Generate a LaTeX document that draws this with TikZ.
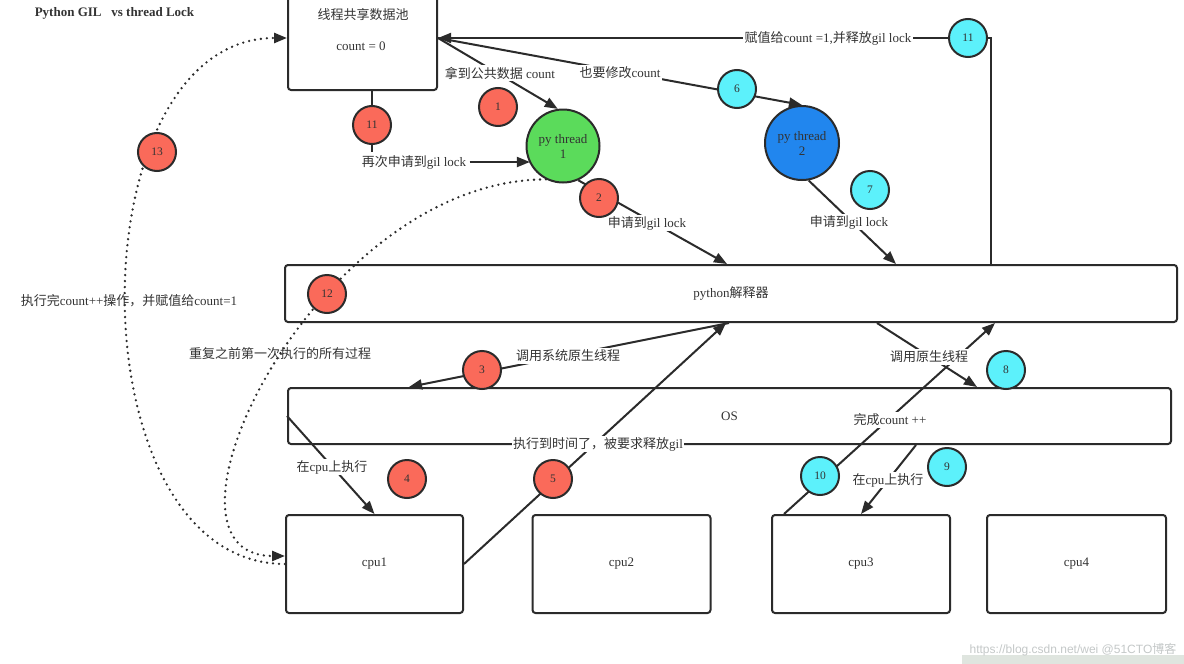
\documentclass[tikz,border=0pt]{standalone}
\usepackage{fontspec}
\setmainfont{Liberation Serif}
\newfontfamily\cjk{Noto Sans CJK SC}
\newfontfamily\wmfont{Liberation Sans}
\usetikzlibrary{arrows.meta}
\definecolor{linec}{HTML}{2B2B2B}
\definecolor{txtc}{HTML}{333333}
\definecolor{redf}{HTML}{FA6A5A}
\definecolor{cyanf}{HTML}{5CF1FB}
\definecolor{greenf}{HTML}{5BDB5B}
\definecolor{bluef}{HTML}{2186EE}
\definecolor{wmc}{HTML}{C4C8C8}
\definecolor{bandc}{HTML}{DFE5DF}
\pgfdeclarelayer{bg}
\pgfsetlayers{bg,main}
\begin{document}
\begin{tikzpicture}[x=1pt,y=-1pt,
  every node/.style={text=txtc, font=\fontsize{13}{15}\selectfont},
  box/.style={draw=linec, line width=2pt, rounded corners=3pt, inner sep=0pt},
  ball/.style={circle, draw=linec, line width=2pt, minimum size=38pt, inner sep=0pt, font=\fontsize{11.5}{12}\selectfont},
  redball/.style={ball, fill=redf},
  cyanball/.style={ball, fill=cyanf},
  thread/.style={circle, draw=linec, line width=2pt, inner sep=0pt, align=center, font=\fontsize{13}{15}\selectfont},
  conn/.style={draw=linec, line width=2pt},
  arr/.style={conn, -{Triangle[length=13pt,width=10pt]}},
  lbl/.style={fill=white, inner sep=1.5pt},
  dotline/.style={draw=linec, line width=2.6pt, line cap=round, dash pattern=on 0pt off 6pt, -{Triangle[length=13pt,width=10pt]}}
]
\useasboundingbox (0,0) rectangle (1184,664);
\clip (0,0) rectangle (1184,664);

% title
\node[font=\fontsize{13}{15}\selectfont\bfseries] (title) at (114.5,13) {Python GIL\ \ \ vs thread Lock};

% boxes
\node[box, minimum width=149pt, minimum height=104pt] (pool) at (362.5,38) {};
\node (pooltitle) at (363,15) {\cjk 线程共享数据池};
\node (poolcount) at (361,46) {count = 0};
\node[box, minimum width=892pt, minimum height=57pt] (interp) at (731,293.5) {python{\cjk 解释器}};
\node[box, minimum width=883pt, minimum height=56pt] (os) at (729.5,416) {OS};
\node[box, minimum width=177pt, minimum height=98pt] (cpu1) at (374.5,564) {cpu1};
\node[box, minimum width=178pt, minimum height=98pt] (cpu2) at (621.5,564) {cpu2};
\node[box, minimum width=178pt, minimum height=98pt] (cpu3) at (861,564) {cpu3};
\node[box, minimum width=179pt, minimum height=98pt] (cpu4) at (1076.5,564) {cpu4};

% threads
\node[thread, fill=greenf, minimum size=73pt] (t1) at (563,146) {py thread\\1};
\node[thread, fill=bluef, minimum size=74pt] (t2) at (802,143) {py thread\\2};

% labels
\node[lbl] (take) at (500,73) {{\cjk 拿到公共数据} count};
\node[lbl] (alsomod) at (620,73) {{\cjk 也要修改}count};
\node[lbl] (assign) at (828,38) {{\cjk 赋值给}count =1,{\cjk 并释放}gil lock};
\node (regain) at (414,162) {{\cjk 再次申请到}gil lock};
\node[lbl] (apply1) at (647,223) {{\cjk 申请到}gil lock};
\node[lbl] (apply2) at (849,222) {{\cjk 申请到}gil lock};
\node (execdone) at (129,301) {{\cjk 执行完}count++{\cjk 操作，并赋值给}count=1};
\node (repeat) at (280,354) {\cjk 重复之前第一次执行的所有过程};
\node[lbl] (syscall) at (568,356) {\cjk 调用系统原生线程};
\node[lbl] (timeup) at (598,444) {{\cjk 执行到时间了，被要求释放}gil};
\node[lbl] (oncpu1) at (332,467) {{\cjk 在}cpu{\cjk 上执行}};
\node[lbl] (native) at (929,357) {\cjk 调用原生线程};
\node[lbl] (done) at (890,420) {{\cjk 完成}count ++};
\node[lbl] (oncpu3) at (888,480) {{\cjk 在}cpu{\cjk 上执行}};

% numbered circles
\node[redball] (r1) at (498,107) {1};
\node[redball] (r2) at (599,198) {2};
\node[redball] (r3) at (482,370) {3};
\node[redball] (r4) at (407,479) {4};
\node[redball] (r5) at (553,479) {5};
\node[redball] (r11) at (372,125) {11};
\node[redball] (r12) at (327,294) {12};
\node[redball] (r13) at (157,152) {13};
\node[cyanball] (c6) at (737,89) {6};
\node[cyanball] (c7) at (870,190) {7};
\node[cyanball] (c8) at (1006,370) {8};
\node[cyanball] (c9) at (947,467) {9};
\node[cyanball] (c10) at (820,476) {10};
\node[cyanball] (c11) at (968,38) {11};

% watermark
\node[text=wmc, font=\fontsize{12}{14}\selectfont\wmfont] (wm) at (1073,650) {https://blog.csdn.net/wei @51CTO{\cjk 博客}};

\begin{pgfonlayer}{bg}
  \fill[white] (0,0) rectangle (1184,664);
  \fill[bandc] (962,655) rectangle (1184,664);
  \draw[arr] (pool.east) -- (t1.98);
  \draw[arr] (pool.east) -- (t2.north);
  \draw[arr] ([xshift=707pt]interp.north west) |- (pool.east);
  \draw[conn] (r11.north) -- (r11.north |- pool.south);
  \draw[conn] (r11.south) -- (r11.south |- regain.north);
  \draw[arr] (regain.east) -- (regain.east -| t1.208);
  \draw[arr] (t1.294) -- ([xshift=443pt]interp.north west);
  \draw[arr] (t2.280) -- ([xshift=612pt]interp.north west);
  \draw[arr] ([xshift=445pt]interp.south west) -- ([xshift=122pt]os.north west);
  \draw[arr] (cpu1.east) -- ([xshift=442pt]interp.south west);
  \draw[arr] (os.west) -- (cpu1.north);
  \draw[arr] ([xshift=593pt]interp.south west) -- ([xshift=690pt]os.north west);
  \draw[arr] ([xshift=13pt]cpu3.north west) -- ([xshift=711pt]interp.south west);
  \draw[arr] ([xshift=629pt]os.south west) -- ([xshift=90pt]cpu3.north west);
  \draw[dotline] (cpu1.west) .. controls +(-213,0) and +(-213,0) .. (pool.west);
  \draw[dotline] (t1.243) .. controls +(-230,0) and +(-150,0) .. ([yshift=8pt]cpu1.west);
\end{pgfonlayer}
\end{tikzpicture}
\end{document}
